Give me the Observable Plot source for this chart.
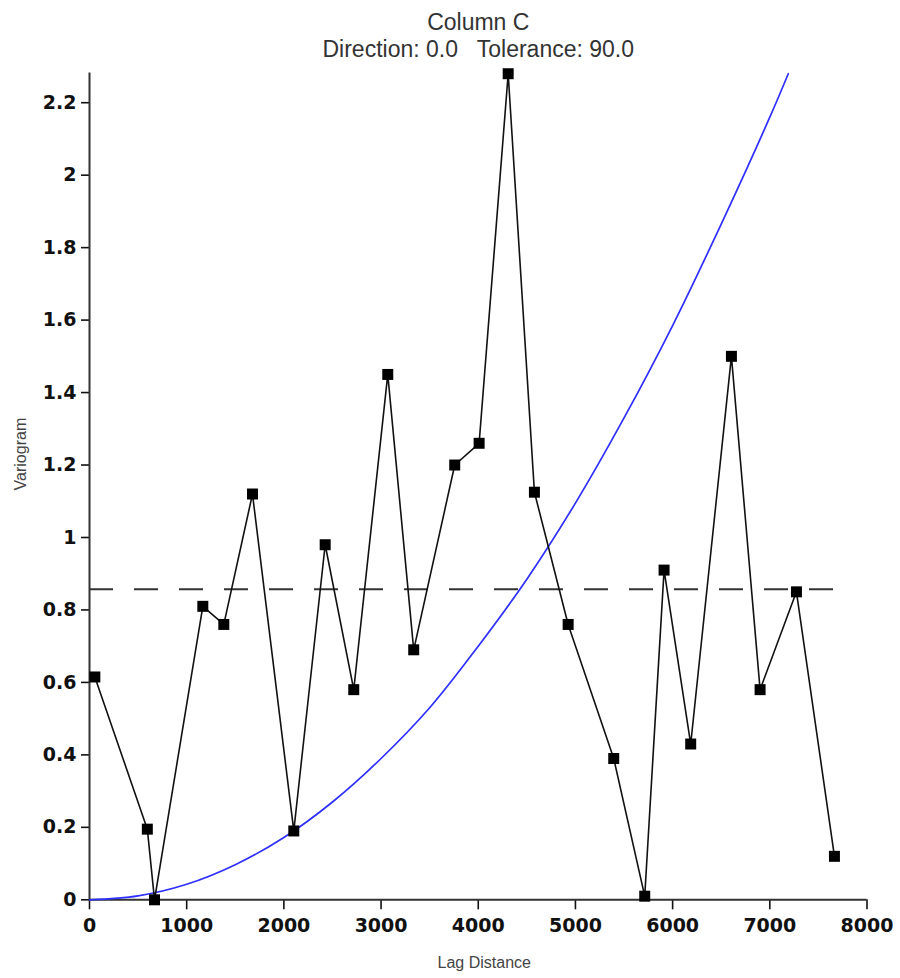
<!DOCTYPE html>
<html>
<head>
<meta charset="utf-8">
<script src="https://cdn.jsdelivr.net/npm/d3@7"></script>
<script src="https://cdn.jsdelivr.net/npm/@observablehq/plot@0.6"></script>
<style>
  body { margin: 0; background: #fff; }
  svg text { white-space: pre; }
</style>
</head>
<body>
<div id="chart"></div>
<script>
// Experimental variogram (lag distance vs variogram value)
const lag   = [55, 595, 669, 1166, 1382, 1677, 2102, 2425, 2719, 3069, 3336, 3758, 4009, 4308, 4578, 4925, 5394, 5713, 5912, 6186, 6605, 6900, 7274, 7665];
const gamma = [0.615, 0.195, 0.0, 0.81, 0.76, 1.12, 0.19, 0.98, 0.58, 1.45, 0.69, 1.20, 1.26, 2.28, 1.125, 0.76, 0.39, 0.01, 0.91, 0.43, 1.50, 0.58, 0.85, 0.12];

// Model curve
const modelLag   = [0, 500, 1000, 1500, 2000, 2500, 3000, 3500, 4000, 4500, 5000, 5500, 6000, 6500, 7000, 7190];
const modelGamma = [0, 0.011, 0.043, 0.097, 0.172, 0.27, 0.39, 0.53, 0.70, 0.885, 1.095, 1.33, 1.585, 1.865, 2.16, 2.28];

// Sill (dashed line)
const sillValue = 0.857;
const sillFrom = 0;
const sillTo = 7800;

// Ticks
const xTicks = [0, 1000, 2000, 3000, 4000, 5000, 6000, 7000, 8000];
const xTickLabels = ["0", "1000", "2000", "3000", "4000", "5000", "6000", "7000", "8000"];
const yTicks = [0, 0.2, 0.4, 0.6, 0.8, 1, 1.2, 1.4, 1.6, 1.8, 2, 2.2];
const yTickLabels = ["0", "0.2", "0.4", "0.6", "0.8", "1", "1.2", "1.4", "1.6", "1.8", "2", "2.2"];

const titleText = "Column C";
const subtitleText = "Direction: 0.0   Tolerance: 90.0";
const xLabel = "Lag Distance";
const yLabel = "Variogram";

const points = lag.map((x, i) => ({x, y: gamma[i]}));
const model = modelLag.map((x, i) => ({x, y: modelGamma[i]}));
const sill = [{x1: sillFrom, x2: sillTo, y: sillValue}];

const tickFont = "DejaVu Sans, Verdana, sans-serif";
const textFont = "Liberation Sans, Arial, Helvetica, sans-serif";

const chart = Plot.plot({
  width: 900,
  height: 978,
  marginLeft: 89,
  marginRight: 33.5,
  marginTop: 72.5,
  marginBottom: 78.7,
  style: {background: "#fff", color: "#111"},
  x: {domain: [0, 8000]},
  y: {domain: [0, 2.282]},
  marks: [
    Plot.axisX({
      ticks: xTicks,
      tickFormat: d => xTickLabels[xTicks.indexOf(d)],
      tickSize: 10,
      tickPadding: 9,
      fontSize: 19,
      fontWeight: "bold",
      fontFamily: tickFont,
      strokeWidth: 1.6,
      label: null
    }),
    Plot.axisY({
      ticks: yTicks,
      tickFormat: d => yTickLabels[yTicks.indexOf(d)],
      tickSize: 8,
      tickPadding: 5,
      fontSize: 19,
      fontWeight: "bold",
      fontFamily: tickFont,
      strokeWidth: 1.6,
      label: null
    }),
    Plot.ruleX([0], {stroke: "#333", strokeWidth: 2}),
    Plot.ruleY([0], {stroke: "#333", strokeWidth: 2}),
    Plot.ruleY(sill, {x1: "x1", x2: "x2", y: "y", stroke: "#333", strokeWidth: 2, strokeDasharray: "24,21"}),
    Plot.line(model, {x: "x", y: "y", stroke: "#2f2fff", strokeWidth: 1.7, curve: "catmull-rom"}),
    Plot.line(points, {x: "x", y: "y", stroke: "#111", strokeWidth: 1.6}),
    Plot.dot(points, {x: "x", y: "y", symbol: "square", r: 6.2, fill: "#000", stroke: "none"}),
    Plot.text([titleText], {frameAnchor: "top", dy: -43.5, lineAnchor: "bottom", fontSize: 23, fontFamily: textFont, fill: "#333"}),
    Plot.text([subtitleText], {frameAnchor: "top", dy: -16.5, lineAnchor: "bottom", fontSize: 23, fontFamily: textFont, fill: "#333"}),
    Plot.text([xLabel], {frameAnchor: "bottom", dy: 68, dx: 6, fontSize: 16, fontFamily: textFont, fill: "#444"}),
    Plot.text([yLabel], {frameAnchor: "left", rotate: -90, dx: -69, dy: 4, fontSize: 16, fontFamily: textFont, fill: "#444"})
  ]
});
document.getElementById("chart").appendChild(chart);
</script>
</body>
</html>
